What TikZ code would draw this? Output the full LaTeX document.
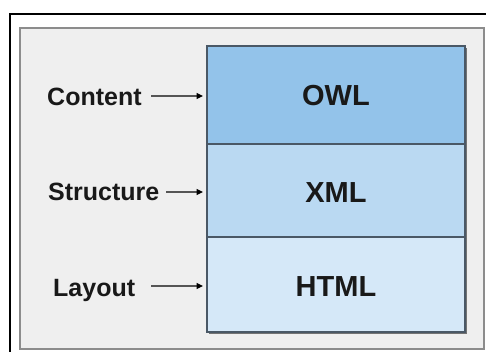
\documentclass[tikz,border=0pt]{standalone}
\usepackage{fontspec}
\setmainfont{Liberation Sans}
\usetikzlibrary{arrows.meta}
\definecolor{bggray}{HTML}{EFEFEF}
\definecolor{boxgray}{HTML}{8C8C8C}
\definecolor{owlblue}{HTML}{93C3EA}
\definecolor{xmlblue}{HTML}{BAD9F2}
\definecolor{htmlblue}{HTML}{D5E8F8}
\definecolor{edgeblue}{HTML}{4A5866}
\definecolor{arrowgray}{HTML}{555555}
\tikzset{
  layer/.style={draw=edgeblue, line width=1.1pt, minimum width=258pt, inner sep=0pt, outer sep=0pt},
  layertext/.style={font=\fontsize{29}{32}\selectfont\bfseries, text=black!90},
  sidelabel/.style={font=\fontsize{25}{28}\selectfont\bfseries, anchor=base west, inner sep=0pt, text=black!90},
  pointer/.style={draw=arrowgray, line width=1.2pt, shorten >=4pt, -{Triangle[length=6.5pt,width=6pt,fill=black,color=black]}}
}
\begin{document}
\begin{tikzpicture}[x=1pt,y=1pt]
\useasboundingbox (0,0) rectangle (486,351);
% outer frame (cropped)
\draw[black, line width=1.8pt] (10,-5) -- (10,337) -- (495,337);
% gray panel
\draw[draw=boxgray, fill=bggray, line width=2pt] (20,2) rectangle (484,323);
% stack shadow
\fill[black!55] (209,17) rectangle (467,303);
% layers
\node[layer, fill=owlblue, minimum height=98pt, anchor=north west] (owl) at (207,305) {};
\node[layer, fill=xmlblue, minimum height=93pt, anchor=north west] (xml) at (owl.south west) {};
\node[layer, fill=htmlblue, minimum height=95pt, anchor=north west] (html) at (xml.south west) {};
\node[layertext] (owlt) at (336,255) {OWL};
\node[layertext] (xmlt) at (336,158) {XML};
\node[layertext] (htmlt) at (336,64) {HTML};
% side labels
\node[sidelabel] (content) at (47,245) {Content};
\node[sidelabel] (structure) at (48,151) {Structure};
\node[sidelabel] (layoutl) at (53,55) {Layout};
\coordinate (cs) at (151,255);
\coordinate (ss) at (166,159);
\coordinate (ls) at (151,65);
\draw[pointer] (cs) -- (cs -| owl.west);
\draw[pointer] (ss) -- (ss -| xml.west);
\draw[pointer] (ls) -- (ls -| html.west);
\end{tikzpicture}
\end{document}
